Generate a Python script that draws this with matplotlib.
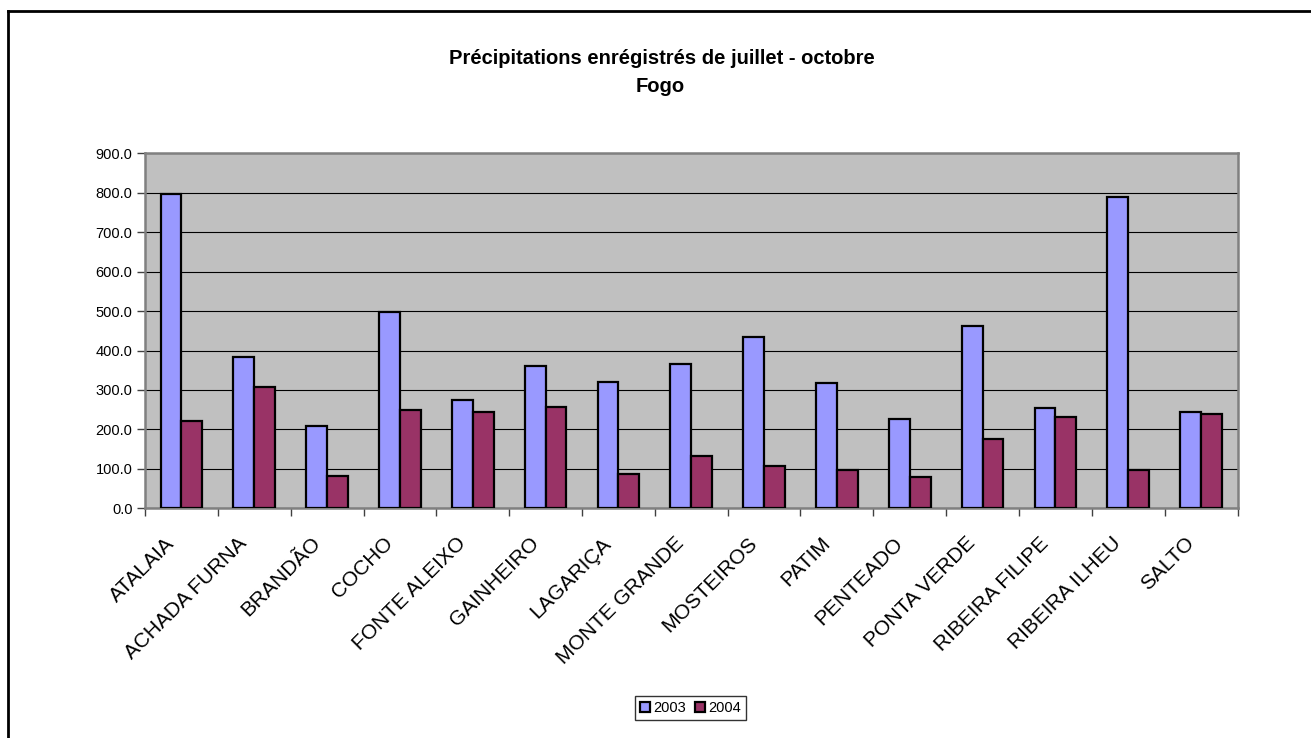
import matplotlib
matplotlib.use("Agg")
import matplotlib.pyplot as plt
import matplotlib.transforms as mtransforms
from matplotlib.lines import Line2D
import numpy as np

plt.rcParams['font.family'] = ['Liberation Sans', 'DejaVu Sans']

stations = ["ATALAIA", "ACHADA FURNA", "BRANDÃO", "COCHO", "FONTE ALEIXO",
            "GAINHEIRO", "LAGARIÇA", "MONTE GRANDE", "MOSTEIROS", "PATIM",
            "PENTEADO", "PONTA VERDE", "RIBEIRA FILIPE", "RIBEIRA ILHEU", "SALTO"]
rain_2003 = [796, 383, 209, 497, 274, 361, 319, 365, 434, 317, 226, 461, 254, 788, 244]
rain_2004 = [221, 308, 83, 248, 244, 258, 86, 133, 107, 97, 80, 175, 231, 96, 239]
series_labels = ["2003", "2004"]
y_ticks = [0, 100, 200, 300, 400, 500, 600, 700, 800, 900]
title_line1 = "Précipitations enrégistrés de juillet - octobre"
title_line2 = "Fogo"

W, H = 1311, 738
fig = plt.figure(figsize=(W / 100, H / 100), dpi=100)
fig.patch.set_facecolor("white")

# outer chart border (left and top visible)
fig.add_artist(Line2D([8 / W, 8 / W], [0, 1 - 11 / H], transform=fig.transFigure,
                      color="black", lw=2))
fig.add_artist(Line2D([8 / W, 1], [1 - 11 / H, 1 - 11 / H], transform=fig.transFigure,
                      color="black", lw=2))

left, right, top, bottom = 145, 1237.5, 153.3, 508.3
ax = fig.add_axes([left / W, 1 - bottom / H, (right - left) / W, (bottom - top) / H])
ax.set_facecolor("#C0C0C0")

x = np.arange(len(stations))
bw = 0.2857
ax.bar(x - bw / 2, rain_2003, width=bw, color="#9999FF", edgecolor="black",
       linewidth=1.6, label=series_labels[0], zorder=3)
ax.bar(x + bw / 2, rain_2004, width=bw, color="#993366", edgecolor="black",
       linewidth=1.6, label=series_labels[1], zorder=3)

ax.set_xlim(-0.5, len(stations) - 0.5)
ax.set_ylim(0, 900)
ax.set_yticks(y_ticks)
ax.set_yticklabels([f"{v:.1f}" for v in y_ticks], fontsize=10.5)
ax.yaxis.grid(True, color="black", lw=0.8, zorder=1)
ax.set_axisbelow(True)

ax.set_xticks(np.arange(len(stations) + 1) - 0.5)
ax.set_xticklabels([])
ax.set_xticks(x, minor=True)
ax.set_xticklabels(stations, minor=True, rotation=45, ha="right", va="center",
                   rotation_mode="anchor", fontsize=15)
ax.tick_params(axis="x", which="minor", length=0, pad=0)
ax.tick_params(axis="x", which="major", length=6, width=1, color="#404040", direction="out")
ax.tick_params(axis="y", length=6, width=1, color="#404040", direction="out", pad=3)

offset = mtransforms.ScaledTranslation(-10 / 100, -32 / 100, fig.dpi_scale_trans)
for lab in ax.get_xticklabels(minor=True):
    lab.set_transform(lab.get_transform() + offset)

for s in ax.spines.values():
    s.set_color("#808080")
    s.set_linewidth(1.8)

fig.text(662 / W, 1 - 59 / H, title_line1,
         ha="center", va="center", fontsize=14.5, fontweight="bold")
fig.text(660 / W, 1 - 86 / H, title_line2, ha="center", va="center",
         fontsize=14.5, fontweight="bold")

leg = ax.legend(loc="center", bbox_to_anchor=(690.5 / W, 1 - 708 / H),
                bbox_transform=fig.transFigure, ncol=2, frameon=True,
                fancybox=False, edgecolor="black", fontsize=10.5,
                handlelength=0.7, handleheight=0.7, handletextpad=0.2,
                columnspacing=0.6, borderpad=0.35, borderaxespad=0)
leg.get_frame().set_linewidth(1.0)

fig.savefig("out.png", dpi=100)
